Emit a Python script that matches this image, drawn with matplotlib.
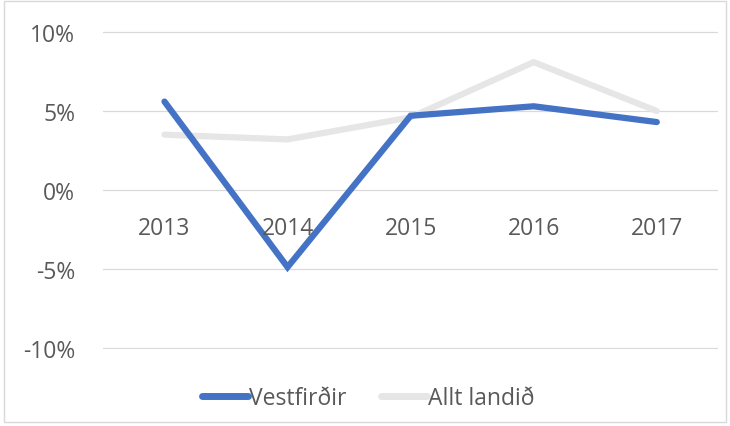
import matplotlib
matplotlib.use("Agg")
import matplotlib.pyplot as plt
from matplotlib.ticker import FuncFormatter
from matplotlib.patches import Rectangle

years = ["2013", "2014", "2015", "2016", "2017"]
vestfirdir = [5.6, -4.9, 4.7, 5.3, 4.3]
allt_landid = [3.5, 3.2, 4.6, 8.1, 5.0]
yticks = [-10, -5, 0, 5, 10]

plt.rcParams['font.family'] = ['Open Sans', 'DejaVu Sans']
FS = 16.5

fig = plt.figure(figsize=(7.30, 4.27), dpi=100)
ax = fig.add_axes([0.141, 0.180, 0.843, 0.746])

x = list(range(len(years)))
ax.plot(x, vestfirdir, color="#4472C4", lw=4.5, solid_capstyle="round",
        solid_joinstyle="miter", label="Vestfirðir", zorder=3)
ax.plot(x, allt_landid, color="#E7E6E6", lw=4.5, solid_capstyle="round",
        solid_joinstyle="miter", label="Allt landið", zorder=2)

ax.set_xlim(-0.5, len(years) - 0.5)
ax.set_ylim(-10.1, 10.1)
ax.set_yticks(yticks)
ax.yaxis.set_major_formatter(FuncFormatter(lambda v, p: f"{v:.0f}%"))
ax.grid(axis="y", color="#D9D9D9", lw=0.9, zorder=0)
ax.set_xticks([])
for s in ax.spines.values():
    s.set_visible(False)
ax.tick_params(axis="y", length=0, pad=20, labelsize=FS, labelcolor="#595959")

for xi, yr in zip(x, years):
    ax.text(xi, -2.4, yr, ha="center", va="center", fontsize=FS, color="#595959")

leg = fig.legend(loc="center", bbox_to_anchor=(0.505, 0.066), ncol=2, frameon=False,
                 fontsize=FS, handlelength=2.0, columnspacing=1.5, handletextpad=0.05)
for t in leg.get_texts():
    t.set_color("#595959")
for h in leg.legend_handles:
    h.set_linewidth(5)

fig.patches.append(Rectangle((0.006, 0.01), 0.988, 0.985, transform=fig.transFigure,
                             fill=False, edgecolor="#D9D9D9", lw=1))

fig.savefig("out.png", dpi=100)
